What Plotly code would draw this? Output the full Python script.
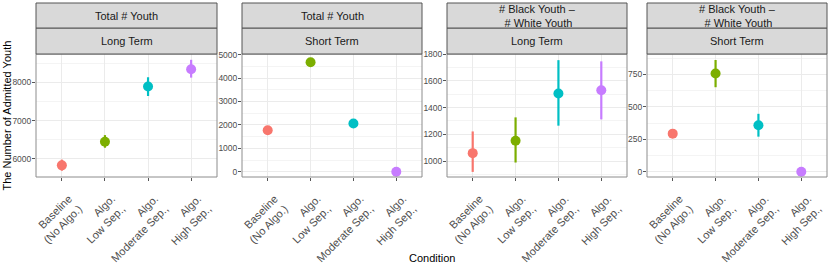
import plotly.graph_objects as go

# ---------------- data ----------------
categories = ["Baseline<br>(No Algo.)", "Algo.<br>Low Sep.,", "Algo.<br>Moderate Sep.,", "Algo.<br>High Sep.,"]
colors = ["#F8766D", "#7CAE00", "#00BFC4", "#C77CFF"]

strip_top = ["Total # Youth", "Total # Youth", "# Black Youth –<br> # White Youth", "# Black Youth –<br> # White Youth"]
strip_bottom = ["Long Term", "Short Term", "Long Term", "Short Term"]

long_total = [5830, 6445, 7890, 8340]
long_total_lo = [5690, 6290, 7640, 8120]
long_total_hi = [5980, 6620, 8130, 8585]

short_total = [1770, 4680, 2060, 0]
short_total_lo = [1700, 4590, 1990, 0]
short_total_hi = [1840, 4790, 2130, 0]

long_diff = [1060, 1152, 1505, 1530]
long_diff_lo = [920, 990, 1265, 1312]
long_diff_hi = [1222, 1327, 1754, 1745]

short_diff = [294, 758, 359, 0]
short_diff_lo = [268, 652, 271, 0]
short_diff_hi = [322, 862, 447, 0]

panels = [
    (long_total, long_total_lo, long_total_hi),
    (short_total, short_total_lo, short_total_hi),
    (long_diff, long_diff_lo, long_diff_hi),
    (short_diff, short_diff_lo, short_diff_hi),
]
y_ranges = [[5526, 8737], [-225, 5030], [882, 1800], [-40, 908]]
y_dtick = [1000, 1000, 200, 250]

# ---------------- layout geometry ----------------
W, H = 830, 266
ML, MR, MT, MB = 36, 3, 54, 89
pw = W - ML - MR
px_domains = [(0, 181), (206, 386), (411, 591), (611, 791)]
domains = [[a / pw, b / pw] for a, b in px_domains]
ph = H - MT - MB  # plot height in px

fig = go.Figure()
layout = dict(
    width=W, height=H,
    margin=dict(l=ML, r=MR, t=MT, b=MB, autoexpand=False),
    paper_bgcolor="white", plot_bgcolor="white",
    showlegend=False,
    font=dict(family="Liberation Sans, Arial, sans-serif", color="#1a1a1a"),
)

shapes = []
annotations = []
xpos = [1, 2, 3, 4]
for i, (vals, lo, hi) in enumerate(panels):
    n = i + 1
    xa = "x" if n == 1 else f"x{n}"
    ya = "y" if n == 1 else f"y{n}"
    for j in range(4):
        fig.add_trace(go.Scatter(
            x=[xpos[j]], y=[vals[j]], mode="markers",
            xaxis=xa, yaxis=ya,
            marker=dict(color=colors[j], size=10),
            error_y=dict(type="data", symmetric=False,
                         array=[hi[j] - vals[j]], arrayminus=[vals[j] - lo[j]],
                         color=colors[j], thickness=2.2, width=0),
            hoverinfo="skip",
        ))
    xkey = "xaxis" if n == 1 else f"xaxis{n}"
    ykey = "yaxis" if n == 1 else f"yaxis{n}"
    layout[xkey] = dict(
        domain=domains[i], anchor=ya, range=[0.4, 4.6], automargin=False,
        tickmode="array", tickvals=xpos, ticktext=categories,
        tickangle=-45, tickfont=dict(size=11, color="#4D4D4D"),
        ticklabelstandoff=7, ticklabelshift=7,
        showgrid=True, gridcolor="#EBEBEB", gridwidth=1,
        ticks="outside", ticklen=3, tickcolor="#555555",
        zeroline=False, showline=False,
    )
    layout[ykey] = dict(
        domain=[0, 1], anchor=xa, range=y_ranges[i], automargin=False,
        dtick=y_dtick[i], tick0=0,
        tickfont=dict(size=8.5, color="#4D4D4D"),
        ticklabelstandoff=-1,
        showgrid=True, gridcolor="#EBEBEB", gridwidth=1,
        minor=dict(dtick=y_dtick[i] / 2, tick0=0, showgrid=True, gridcolor="#F4F4F4", gridwidth=0.6),
        ticks="outside", ticklen=3, tickcolor="#555555",
        zeroline=False, showline=False,
    )
    # panel border
    shapes.append(dict(type="rect", xref=f"{xa} domain", yref=f"{ya} domain",
                       x0=0, x1=1, y0=0, y1=1, line=dict(color="#8C8C8C", width=1),
                       fillcolor="rgba(0,0,0,0)", layer="above"))
    # strips
    s2_top = 1 + 26 / ph
    s1_top = 1 + 51 / ph
    shapes.append(dict(type="rect", xref=f"{xa} domain", yref=f"{ya} domain",
                       x0=0, x1=1, y0=1, y1=s2_top, line=dict(color="#555555", width=1),
                       fillcolor="#D9D9D9"))
    shapes.append(dict(type="rect", xref=f"{xa} domain", yref=f"{ya} domain",
                       x0=0, x1=1, y0=s2_top, y1=s1_top, line=dict(color="#555555", width=1),
                       fillcolor="#D9D9D9"))
    annotations.append(dict(xref=f"{xa} domain", yref=f"{ya} domain", x=0.5, y=(1 + s2_top) / 2,
                            text=strip_bottom[i], showarrow=False, font=dict(size=11, color="#1a1a1a"),
                            xanchor="center", yanchor="middle"))
    annotations.append(dict(xref=f"{xa} domain", yref=f"{ya} domain", x=0.5, y=(s2_top + s1_top) / 2,
                            text=strip_top[i], showarrow=False, font=dict(size=11, color="#1a1a1a"),
                            xanchor="center", yanchor="middle"))

annotations.append(dict(xref="paper", yref="paper", x=0.5, y=-(258 - (H - MB)) / ph,
                        text="Condition", showarrow=False, font=dict(size=11, color="black"),
                        xanchor="center", yanchor="middle"))
annotations.append(dict(xref="paper", yref="paper", x=-(ML - 6) / pw, y=0.5,
                        text="The Number of Admitted Youth", showarrow=False, textangle=-90,
                        font=dict(size=11, color="black"), xanchor="center", yanchor="middle"))

layout["shapes"] = shapes
layout["annotations"] = annotations
fig.update_layout(**layout)
fig.write_html("out.html", config={"displayModeBar": False},
               post_script="document.body.style.margin='0';document.body.style.overflow='hidden';")
